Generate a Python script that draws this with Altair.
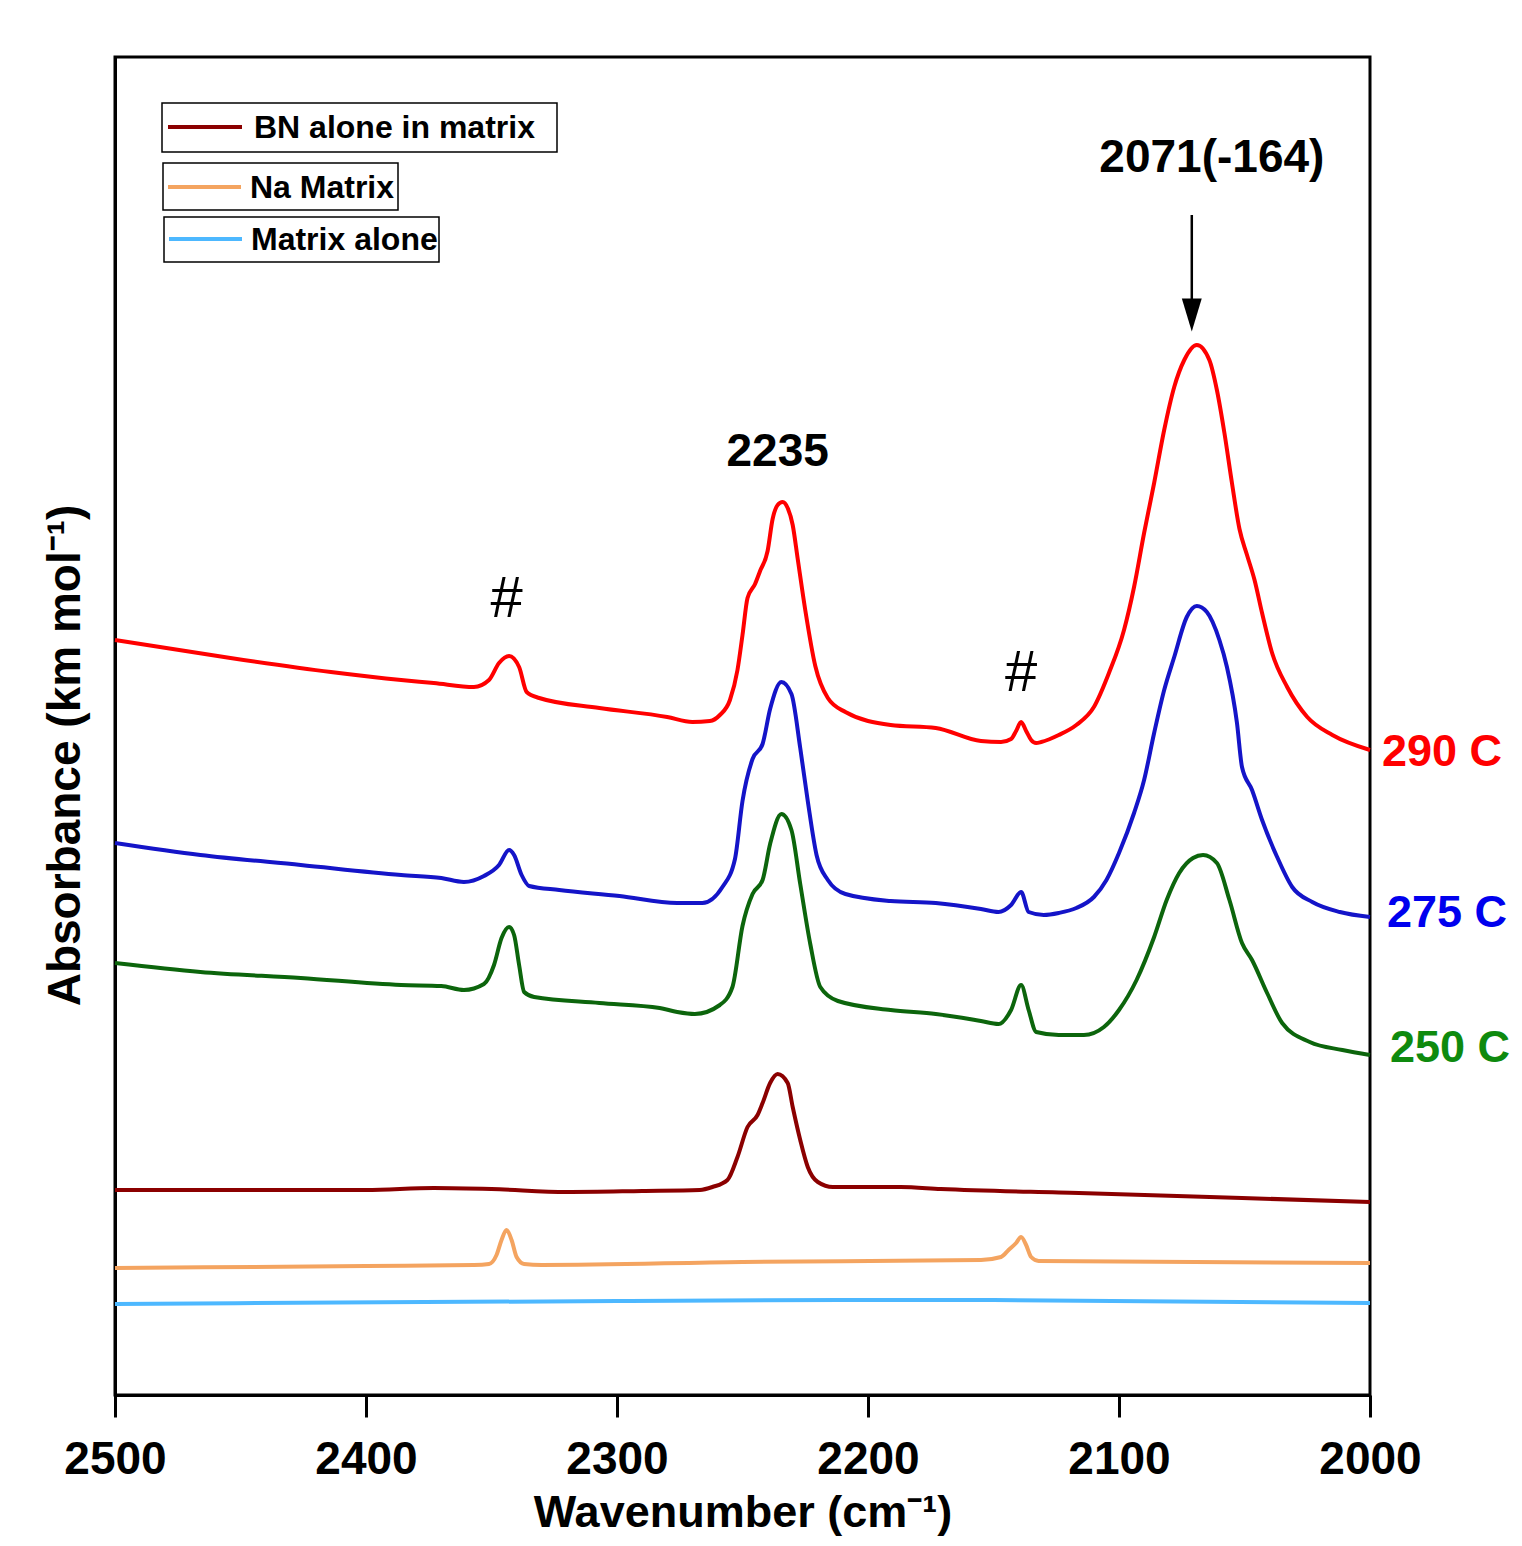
import altair as alt
import pandas as pd

# ---- spectra (wavenumber cm^-1, absorbance a.u.) ----
wn_290 = [2500, 2454, 2414, 2386, 2373, 2357, 2351, 2347, 2343, 2339, 2336, 2331, 2307, 2280, 2270, 2263, 2259, 2255, 2252, 2250,
          2248, 2245, 2243, 2240, 2238, 2236, 2234, 2232, 2230, 2228, 2225, 2221, 2216, 2209, 2191, 2173, 2155, 2147, 2143, 2141,
          2139, 2137, 2135, 2133, 2131, 2124, 2117, 2110, 2104, 2098, 2094, 2090, 2086, 2082, 2078, 2074, 2069, 2064, 2061, 2058,
          2055, 2052, 2049, 2046, 2043, 2039, 2033, 2025, 2015, 2000]
ab_290 = [.755, .737, .723, .715, .712, .708, .715, .732, .739, .728, .703, .697, .687, .678, .673, .674, .680, .695, .725, .760,
          .797, .811, .824, .844, .876, .890, .893, .887, .870, .836, .785, .729, .697, .683, .670, .667, .654, .653, .656, .664,
          .673, .664, .655, .652, .653, .660, .670, .688, .722, .765, .808, .862, .912, .965, 1.008, 1.035, 1.050, 1.035, 1.005, .962,
          .912, .866, .840, .815, .782, .742, .708, .678, .660, .645]

wn_275 = [2500, 2466, 2426, 2386, 2370, 2361, 2353, 2347, 2343, 2341, 2338, 2335, 2323, 2299, 2276, 2266, 2258, 2253, 2250, 2246,
          2242, 2239, 2234.5, 2230.5, 2227, 2224, 2220.5, 2216, 2209, 2191, 2173, 2155, 2148, 2143, 2139, 2136, 2130, 2124, 2117, 2110,
          2105, 2100, 2094, 2090, 2086, 2082, 2078, 2073, 2069, 2065, 2060, 2057, 2053, 2051, 2047, 2043, 2037, 2031, 2023, 2012, 2000]
ab_275 = [.552, .540, .530, .520, .517, .513, .519, .530, .545, .540, .520, .509, .505, .499, .492, .492, .508, .536, .594, .636,
          .651, .686, .713, .701, .647, .594, .540, .515, .501, .494, .492, .486, .483, .490, .503, .483, .480, .482, .487, .498,
          .515, .542, .582, .615, .662, .705, .738, .778, .789, .783, .755, .728, .672, .628, .605, .575, .538, .508, .493, .483, .478]

wn_250 = [2500, 2466, 2426, 2386, 2370, 2361, 2353, 2349, 2346, 2343, 2341, 2339, 2337, 2333, 2307, 2283, 2276, 2269, 2259, 2254,
          2250, 2246, 2242, 2239, 2234.5, 2230.5, 2227, 2223, 2219, 2212, 2191, 2173, 2155, 2148, 2143, 2139, 2136, 2133, 2124, 2114,
          2106, 2100, 2093, 2086, 2081, 2076, 2070.5, 2066.5, 2061, 2056, 2051, 2047, 2041, 2035, 2024, 2011, 2000]
ab_250 = [.432, .423, .417, .410, .409, .405, .411, .430, .457, .468, .460, .430, .403, .398, .392, .387, .383, .381, .390, .408,
          .469, .501, .515, .551, .581, .565, .511, .451, .408, .394, .385, .381, .374, .371, .385, .410, .385, .363, .360, .360,
          .368, .385, .415, .458, .495, .522, .537, .540, .532, .495, .452, .435, .402, .372, .353, .345, .340]

wn_bn = [2500, 2450, 2400, 2373, 2350, 2320, 2290, 2267, 2262, 2256, 2252, 2248, 2244, 2242, 2239, 2236, 2232, 2230, 2227, 2224,
         2220, 2214, 2200, 2187, 2171, 2116, 2051, 2000]
ab_bn = [.205, .205, .205, .207, .206, .203, .204, .205, .208, .215, .238, .268, .280, .292, .312, .321, .312, .288, .255, .228,
         .213, .208, .208, .208, .206, .202, .197, .193]

wn_na = [2500, 2400, 2357, 2351, 2348, 2346, 2344, 2342, 2340, 2337, 2330, 2250, 2155, 2147, 2144, 2141, 2139, 2137, 2135, 2132, 2000]
ab_na = [.127, .129, .130, .131, .140, .155, .165, .155, .138, .131, .130, .133, .135, .138, .145, .152, .158, .150, .138, .134, .132]

wn_m = [2500, 2300, 2200, 2150, 2000]
ab_m = [.091, .094, .095, .095, .092]

names = ["290 C", "275 C", "250 C", "BN alone in matrix", "Na Matrix", "Matrix alone"]
line_colors = ["#FF0000", "#1414C8", "#0C650C", "#8B0000", "#F4A460", "#4DB8FF"]
label_colors = ["#FF0000", "#0000EE", "#0E8A0E"]
x_ticks = [2500, 2400, 2300, 2200, 2100, 2000]

series = [(names[0], wn_290, ab_290), (names[1], wn_275, ab_275), (names[2], wn_250, ab_250),
          (names[3], wn_bn, ab_bn), (names[4], wn_na, ab_na), (names[5], wn_m, ab_m)]
rows = []
for nm, ws, ys in series:
    for w, a in zip(ws, ys):
        rows.append({"series": nm, "wn": w, "absorb": a})
df = pd.DataFrame(rows)

FONT = "Liberation Sans"
W, H = 1255, 1338

xscale = alt.Scale(domain=[2000, 2500], reverse=True, nice=False)
yscale = alt.Scale(domain=[0, 1.338], nice=False, zero=False)

lines = alt.Chart(df).mark_line(strokeWidth=4, interpolate="monotone").encode(
    x=alt.X("wn:Q", scale=xscale,
            axis=alt.Axis(values=x_ticks, format="d", labelFont=FONT, labelFontSize=46, labelFontWeight="bold",
                          labelColor="black", labelPadding=20, labelFlush=False, tickSize=22, tickWidth=3,
                          tickColor="black", domainColor="black", domainWidth=3, grid=False,
                          title="Wavenumber (cm⁻¹)", titleFont=FONT, titleFontSize=45, titleFontWeight="bold",
                          titleColor="black", titlePadding=8)),
    y=alt.Y("absorb:Q", scale=yscale,
            axis=alt.Axis(labels=False, ticks=False, grid=False, domainColor="black", domainWidth=3,
                          title="Absorbance (km mol⁻¹)", titleFont=FONT, titleFontSize=46, titleFontWeight="bold",
                          titleColor="black", titleAngle=270, titleX=-50, titleY=698, titleAlign="center",
                          titleBaseline="middle")),
    color=alt.Color("series:N", scale=alt.Scale(domain=names, range=line_colors), legend=None),
    order=alt.Order("wn:Q", sort="descending"),
)

one = pd.DataFrame({"k": [0]})
layers = [lines]


def txt(text, wn, ab, size, color="black", weight="bold", align="center", dx=0):
    return alt.Chart(one).mark_text(text=text, font=FONT, fontSize=size, fontWeight=weight, color=color,
                                    align=align, baseline="middle", dx=dx).encode(
        x=alt.datum(wn, scale=xscale), y=alt.datum(ab, scale=yscale))


# peak annotations
layers.append(txt("#", 2344, 0.795, 58, weight="normal"))
layers.append(txt("#", 2139, 0.721, 58, weight="normal"))
layers.append(txt("2235", 2236, 0.943, 46))
layers.append(txt("2071(-164)", 2063, 1.237, 46))
# arrow
layers.append(alt.Chart(one).mark_rule(color="black", strokeWidth=2.5).encode(
    x=alt.datum(2071, scale=xscale), y=alt.datum(1.180, scale=yscale), y2=alt.datum(1.085)))
layers.append(alt.Chart(one).mark_point(shape="M-0.6,-1L0.6,-1L0,1Z", filled=True, color="black", opacity=1,
                                        size=1100).encode(
    x=alt.datum(2071, scale=xscale), y=alt.datum(1.080, scale=yscale)))

# right-side temperature labels
layers.append(txt(names[0], 2000, 0.643, 45, color=label_colors[0], align="left", dx=12))
layers.append(txt(names[1], 2000, 0.482, 45, color=label_colors[1], align="left", dx=17))
layers.append(txt(names[2], 2000, 0.347, 45, color=label_colors[2], align="left", dx=20))

# legend boxes (pixel placement inside plot area)
leg = [
    (names[3], line_colors[3], 47, 442, 46, 95, 53, 127, 70, 139),
    (names[4], line_colors[4], 48, 283, 106, 153, 53, 126, 130, 135),
    (names[5], line_colors[5], 49, 324, 160, 205, 54, 127, 182, 136),
]
for nm, col, bx1, bx2, by1, by2, lx1, lx2, ly, tx in leg:
    layers.append(alt.Chart(one).mark_rect(fill="white", stroke="black", strokeWidth=1.5).encode(
        x=alt.value(bx1), x2=alt.value(bx2), y=alt.value(by1), y2=alt.value(by2)))
    layers.append(alt.Chart(one).mark_rule(color=col, strokeWidth=4).encode(
        x=alt.value(lx1), x2=alt.value(lx2), y=alt.value(ly)))
    layers.append(alt.Chart(one).mark_text(text=nm, font=FONT, fontSize=32, fontWeight="bold", color="black",
                                           align="left", baseline="middle").encode(
        x=alt.value(tx), y=alt.value(ly + 1)))

chart = alt.layer(*layers).properties(
    width=W, height=H,
    autosize=alt.AutoSizeParams(type="none"),
    padding={"left": 107, "top": 49, "right": 144, "bottom": 143},
).configure(background="white").configure_view(stroke="black", strokeWidth=3)

chart.save("out.html", embed_options={"renderer": "svg", "actions": False})
